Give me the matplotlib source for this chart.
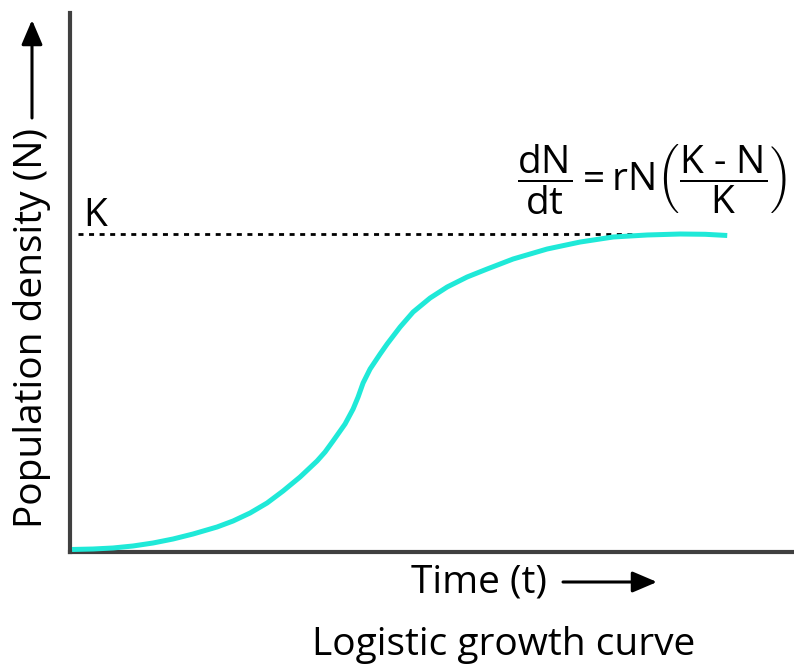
import matplotlib
matplotlib.use("Agg")
import matplotlib.pyplot as plt
from matplotlib.patches import FancyArrowPatch

# values (time in arbitrary units, N as fraction of K)
TIME = [0.031, 0.351, 0.656, 0.962, 1.267, 1.573, 1.878, 2.244, 2.489, 2.748,
        3.008, 3.252, 3.511, 3.771, 3.893, 4.015, 4.198, 4.321, 4.397, 4.473,
        4.580, 4.733, 4.840, 5.038, 5.237, 5.496, 5.756, 6.061, 6.366, 6.763,
        7.282, 7.786, 8.290, 8.809, 9.313, 9.695, 10.031]
DENSITY = [0.0079, 0.0094, 0.0126, 0.0189, 0.0283, 0.0409, 0.0566, 0.0786, 0.0975, 0.1226,
           0.1541, 0.1918, 0.2358, 0.2862, 0.3145, 0.3491, 0.4025, 0.4497, 0.4874, 0.5314,
           0.5755, 0.6226, 0.6541, 0.7075, 0.7547, 0.7987, 0.8333, 0.8648, 0.8899, 0.9214,
           0.9528, 0.9748, 0.9906, 0.9969, 1.0, 0.9991, 0.9953]
K_LEVEL = 1.0
K_LINE_T = [0.12, 10.0]

W, H = 794, 668
FONT = "Open Sans"

plt.rcParams["font.family"] = [FONT, "DejaVu Sans"]
plt.rcParams["mathtext.fontset"] = "custom"
plt.rcParams["mathtext.rm"] = FONT
plt.rcParams["mathtext.it"] = FONT
plt.rcParams["mathtext.bf"] = FONT


def fx(px):
    return px / W


def fy(py):
    return 1 - py / H


fig = plt.figure(figsize=(W / 100, H / 100), dpi=100)
ax = fig.add_axes([fx(70), fy(552), fx(794) - fx(70), fy(13) - fy(552)])

ax.plot(TIME, DENSITY, color="#1fe9d8", lw=3.6, solid_capstyle="butt",
        solid_joinstyle="round", clip_on=False, zorder=3)
ax.plot(K_LINE_T, [K_LEVEL, K_LEVEL], color="black", lw=2.0,
        linestyle=(0, (1.8, 2.0)), dash_capstyle="butt", zorder=2)

ax.set_xlim(0, 11.05)
ax.set_ylim(0, 1.695)
ax.set_xticks([])
ax.set_yticks([])
for side in ["top", "right"]:
    ax.spines[side].set_visible(False)
for side in ["left", "bottom"]:
    ax.spines[side].set_color("#404040")
    ax.spines[side].set_linewidth(3.0)

fig.text(fx(83), fy(226), "K", fontsize=28, ha="left", va="baseline")

fig.text(fx(652), fy(180), r"$\dfrac{dN}{dt} = rN\left(\dfrac{\text{K - N}}{K}\right)$",
         fontsize=28, ha="center", va="center")

fig.text(fx(32), fy(328), "Population density (N)", rotation=90,
         fontsize=28, ha="center", va="center")
fig.text(fx(479), fy(582), "Time (t)", fontsize=28, ha="center", va="center")
fig.text(fx(504), fy(645), "Logistic growth curve", fontsize=28, ha="center", va="center")

style = "-|>,head_length=0.75,head_width=0.32"
fig.add_artist(FancyArrowPatch((fx(32), fy(118)), (fx(32), fy(20)), transform=fig.transFigure,
                               arrowstyle=style, color="black", lw=2.2, mutation_scale=20,
                               shrinkA=0, shrinkB=0))
fig.add_artist(FancyArrowPatch((fx(563), fy(582)), (fx(657), fy(582)), transform=fig.transFigure,
                               arrowstyle=style, color="black", lw=2.2, mutation_scale=20,
                               shrinkA=0, shrinkB=0))

fig.savefig("out.png", dpi=100)
